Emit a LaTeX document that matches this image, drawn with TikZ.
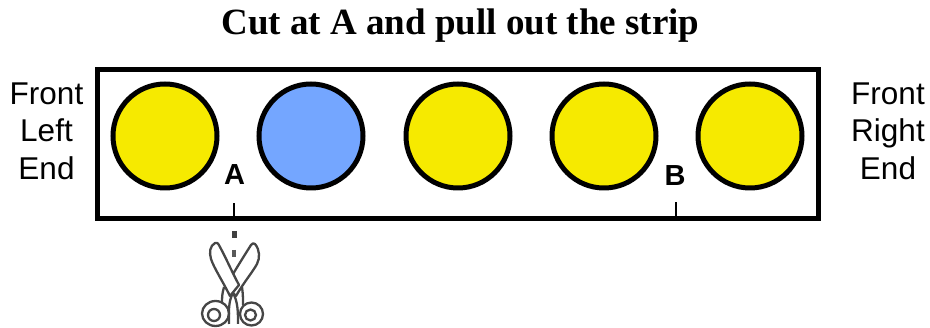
\documentclass[tikz,border=0pt]{standalone}
\usepackage{fontspec}
\setmainfont{Liberation Sans}
\newfontfamily\titlefont{Liberation Serif}
\definecolor{discyellow}{RGB}{246,234,0}
\definecolor{discblue}{RGB}{116,166,255}
\definecolor{scissorgrey}{RGB}{70,70,70}
\tikzset{
  disc/.style={circle,draw=black,line width=5pt,minimum size=104pt,inner sep=0pt},
  sidelabel/.style={align=center,font=\fontsize{31.5}{37.5}\selectfont,inner sep=0pt},
  cutlabel/.style={font=\bfseries\fontsize{29}{30}\selectfont,inner sep=0pt},
  tick/.style={line width=2pt},
  blade/.style={draw=scissorgrey,line width=2.3pt,fill=white,line join=round},
  ring/.style={draw=scissorgrey,line width=2.3pt,fill=white},
  handle/.style={draw=scissorgrey,line width=2.3pt}
}
\begin{document}
\begin{tikzpicture}[x=1pt,y=-1pt]
\useasboundingbox (0,0) rectangle (930,328);
\node[font=\titlefont\bfseries\fontsize{37}{40}\selectfont,inner sep=0pt] (title) at (460.5,26) {Cut at A and pull out the strip};
\node[draw=black,line width=5pt,minimum width=721pt,minimum height=149pt,inner sep=0pt] (strip) at (458,144) {};
\node[disc,fill=discyellow] (d1) at (165,136) {};
\node[disc,fill=discblue] (d2) at (311,136) {};
\node[disc,fill=discyellow] (d3) at (458,136) {};
\node[disc,fill=discyellow] (d4) at (604,136) {};
\node[disc,fill=discyellow] (d5) at (750,136) {};
\node[sidelabel] (fl) at (46.5,131) {Front\\Left\\End};
\node[sidelabel] (fr) at (888,131) {Front\\Right\\End};
\node[cutlabel] (a) at (234.5,174.5) {A};
\node[cutlabel] (b) at (675,175.5) {B};
\coordinate (acut) at (234,220);
\coordinate (bcut) at (675.5,220);
\draw[tick] (acut) -- ++(0,-17);
\draw[tick] (bcut) -- ++(0,-18);
% scissors
\draw[ring] (215.5,313.5) ellipse (13.5 and 12.5);
\draw[ring] (214,315) circle (6);
\draw[ring] (251.5,314) circle (11.5);
\draw[ring] (250.5,315) circle (5.5);
\draw[blade] (255,244) .. controls (260,250) and (260,258) .. (257,264) .. controls (252,273) and (244,282) .. (236,296) -- (226,286) .. controls (234,272) and (244,256) .. (251,245) .. controls (252,243) and (254,243) .. cycle;
\draw[blade] (215,243) .. controls (210,246) and (209,252) .. (211,259) .. controls (214,268) and (222,280) .. (230,296) -- (239,285) .. controls (232,272) and (226,258) .. (220,247) .. controls (218,243) and (217,242) .. cycle;
\draw[handle] (224,287) .. controls (222,294) and (222,298) .. (222,303);
\draw[handle] (242,287) .. controls (243,294) and (243,298) .. (243,305);
\draw[handle] (233,293) .. controls (228,302) and (229,312) .. (229,324);
\draw[handle] (233,293) .. controls (238,302) and (238,312) .. (238,324);
\draw[line width=5pt,draw=black!75] (234,231) -- (234,238);
\draw[line width=4pt,draw=black!65] (234,250) -- (234,257);
\end{tikzpicture}
\end{document}
